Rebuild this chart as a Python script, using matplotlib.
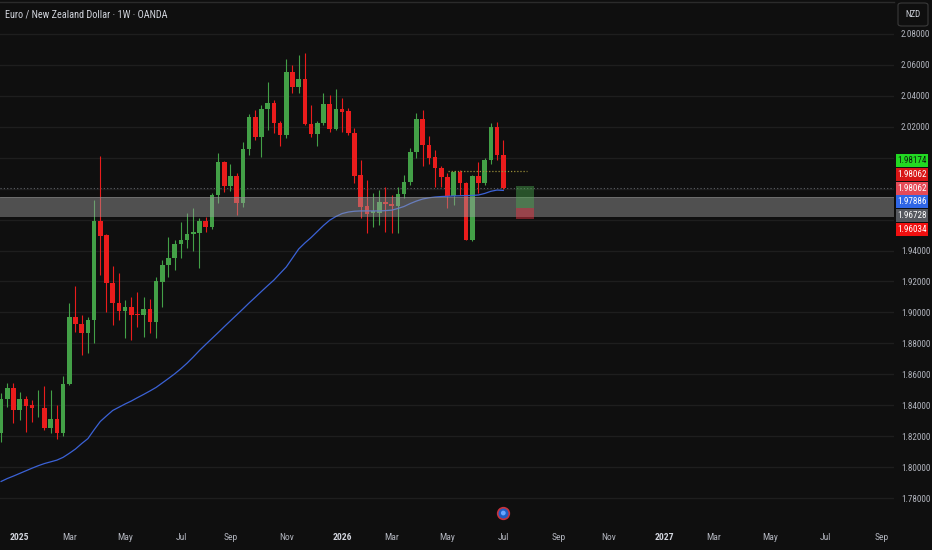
import numpy as np
import pandas as pd
import matplotlib
matplotlib.use("Agg")
import matplotlib.pyplot as plt
import matplotlib.transforms as mtransforms
from matplotlib.patches import Rectangle, FancyBboxPatch
from matplotlib import font_manager as fm

# ---------------- data ----------------
first_week = "2024-12-16"   # weekly bars (Monday)
opens = [1.8222, 1.8438, 1.8509, 1.8369, 1.8438, 1.8400, 1.8379, 1.8380, 1.8251, 1.8310,
         1.8218, 1.8536, 1.8972, 1.8925, 1.8865, 1.8951, 1.9591, 1.9502, 1.9188, 1.9059,
         1.9009, 1.9037, 1.8990, 1.8985, 1.9025, 1.8936, 1.9198, 1.9306, 1.9350, 1.9442,
         1.9465, 1.9505, 1.9511, 1.9591, 1.9554, 1.9759, 1.9974, 1.9817, 1.9882, 1.9705,
         2.0056, 2.0265, 2.0132, 2.0313, 2.0356, 2.0223, 2.0147, 2.0556, 2.0459, 2.0509,
         2.0218, 2.0153, 2.0223, 2.0345, 2.0184, 2.0313, 2.0304, 2.0162, 1.9888, 1.9690,
         1.9641, 1.9645, 1.9716, 1.9704, 1.9688, 1.9765, 1.9841, 2.0035, 2.0250, 2.0085,
         2.0003, 1.9932, 1.9873, 1.9753, 1.9910, 1.9835, 1.9468, 1.9882, 1.9839, 1.9985,
         2.0197, 2.0018]
highs = [1.8479, 1.8546, 1.8542, 1.8485, 1.8458, 1.8432, 1.8498, 1.8522, 1.8498, 1.8401,
         1.8592, 1.9059, 1.9173, 1.8983, 1.8972, 1.9727, 2.0011, 1.9510, 1.9300, 1.9257,
         1.9080, 1.9102, 1.9132, 1.9102, 1.9085, 1.9232, 1.9339, 1.9489, 1.9468, 1.9586,
         1.9645, 1.9673, 1.9610, 1.9619, 1.9770, 2.0032, 1.9981, 1.9959, 1.9903, 2.0104,
         2.0283, 2.0309, 2.0341, 2.0492, 2.0373, 2.0240, 2.0641, 2.0599, 2.0664, 2.0679,
         2.0341, 2.0237, 2.0417, 2.0406, 2.0442, 2.0384, 2.0320, 2.0190, 1.9985, 1.9856,
         1.9770, 1.9791, 1.9811, 1.9759, 1.9811, 1.9888, 2.0061, 2.0289, 2.0309, 2.0140,
         2.0050, 1.9947, 1.9903, 1.9916, 1.9921, 1.9840, 1.9888, 1.9970, 1.9998, 2.0226,
         2.0233, 2.0115]
lows = [1.8164, 1.8390, 1.8283, 1.8304, 1.8229, 1.8293, 1.8326, 1.8240, 1.8218, 1.8183,
        1.8199, 1.8530, 1.8875, 1.8725, 1.8736, 1.8804, 1.9242, 1.9005, 1.8919, 1.8951,
        1.8833, 1.8822, 1.8906, 1.8843, 1.8865, 1.8833, 1.9037, 1.9229, 1.9274, 1.9350,
        1.9414, 1.9399, 1.9285, 1.9522, 1.9537, 1.9705, 1.9780, 1.9787, 1.9630, 1.9683,
        2.0018, 2.0115, 2.0007, 2.0179, 2.0158, 2.0076, 2.0126, 2.0417, 2.0417, 2.0212,
        2.0136, 2.0076, 2.0212, 2.0168, 2.0179, 2.0168, 2.0147, 1.9835, 1.9608, 1.9511,
        1.9554, 1.9565, 1.9520, 1.9515, 1.9515, 1.9738, 1.9824, 1.9996, 1.9947, 1.9959,
        1.9813, 1.9809, 1.9673, 1.9694, 1.9759, 1.9465, 1.9462, 1.9770, 1.9824, 1.9959,
        1.9985, 1.9796]
closes = [1.8438, 1.8509, 1.8369, 1.8438, 1.8395, 1.8379, 1.8382, 1.8251, 1.8310, 1.8218,
          1.8536, 1.8972, 1.8925, 1.8865, 1.8951, 1.9591, 1.9496, 1.9188, 1.9059, 1.9009,
          1.9037, 1.8983, 1.8985, 1.9025, 1.8936, 1.9200, 1.9306, 1.9350, 1.9442, 1.9468,
          1.9510, 1.9518, 1.9591, 1.9554, 1.9759, 1.9974, 1.9817, 1.9882, 1.9705, 2.0056,
          2.0265, 2.0132, 2.0313, 2.0356, 2.0223, 2.0147, 2.0556, 2.0459, 2.0509, 2.0218,
          2.0153, 2.0223, 2.0345, 2.0184, 2.0313, 2.0298, 2.0158, 1.9882, 1.9683, 1.9636,
          1.9656, 1.9716, 1.9698, 1.9688, 1.9765, 1.9845, 2.0039, 2.0250, 2.0085, 2.0000,
          1.9932, 1.9873, 1.9753, 1.9910, 1.9835, 1.9468, 1.9882, 1.9835, 1.9985, 2.0197,
          2.0018, 1.98062]
ma_values = [1.7907, 1.7926, 1.7942, 1.7959, 1.7976, 1.7993, 1.8009, 1.8023, 1.8034, 1.8045,
             1.8063, 1.8089, 1.8117, 1.8152, 1.8184, 1.8241, 1.8295, 1.8331, 1.8366, 1.8387,
             1.8408, 1.8427, 1.8449, 1.8470, 1.8492, 1.8515, 1.8544, 1.8573, 1.8603, 1.8636,
             1.8672, 1.8712, 1.8754, 1.8793, 1.8831, 1.8869, 1.8908, 1.8946, 1.8984, 1.9022,
             1.9061, 1.9098, 1.9136, 1.9173, 1.9209, 1.9252, 1.9294, 1.9352, 1.9410, 1.9449,
             1.9484, 1.9523, 1.9562, 1.9596, 1.9620, 1.9639, 1.9649, 1.9654, 1.9656, 1.9656,
             1.9656, 1.9656, 1.9658, 1.9661, 1.9672, 1.9685, 1.9704, 1.9720, 1.9733, 1.9741,
             1.9746, 1.9749, 1.9751, 1.9753, 1.9754, 1.9755, 1.9756, 1.9759, 1.9769, 1.9783,
             1.9791, 1.97886]

zone_low, zone_high = 1.9619, 1.9748        # grey support zone
last_price = 1.98062
ma_last = 1.97886
take_profit, entry_price, stop_loss = 1.98174, 1.96728, 1.96034
pos_start, pos_end = 83.0, 86.0               # long-position tool (bar index)
olive_level, olive_start, olive_end = 1.9916, 72.1, 84.8

price_ticks = [1.78, 1.80, 1.82, 1.84, 1.86, 1.88, 1.90, 1.92, 1.94, 1.96, 1.98,
               2.00, 2.02, 2.04, 2.06, 2.08]
hidden_ticks = [1.96, 1.98, 2.00]
tick_months = [(2025, 1), (2025, 3), (2025, 5), (2025, 7), (2025, 9), (2025, 11),
               (2026, 1), (2026, 3), (2026, 5), (2026, 7), (2026, 9), (2026, 11),
               (2027, 1), (2027, 3), (2027, 5), (2027, 7), (2027, 9)]
month_abbr = ["Jan", "Feb", "Mar", "Apr", "May", "Jun", "Jul", "Aug", "Sep", "Oct", "Nov", "Dec"]
title_text = "Euro / New Zealand Dollar \u00b7 1W \u00b7 OANDA"
currency = "NZD"

# ---------------- style ----------------
avail = {f.name for f in fm.fontManager.ttflist}
narrow = [f for f in ["Liberation Sans Narrow", "Roboto Condensed", "Open Sans Condensed",
                      "Liberation Sans", "DejaVu Sans"] if f in avail]
plt.rcParams["font.family"] = narrow + ["DejaVu Sans"]

BG = "#0f0f0f"
GRID = "#1e1e1e"
TXT = "#b2b5be"
UP = "#43a047"
DOWN = "#ea1c1c"

W, H = 932, 550
fig = plt.figure(figsize=(W / 100, H / 100), dpi=100, facecolor=BG)
ax = fig.add_axes([0, 28 / H, 894 / W, 520 / H], facecolor=BG)

n = len(opens)
idx = np.arange(n)
o = np.array(opens); c = np.array(closes); hi = np.array(highs); lo = np.array(lows)
up = c >= o
colors = np.where(up, UP, DOWN)

# grid
for p in price_ticks:
    ax.axhline(p, color=GRID, lw=1.0, zorder=0)

# wicks and bodies
ax.vlines(idx, lo, hi, colors=colors, lw=0.8, zorder=2)
body_bottom = np.minimum(o, c)
body_h = np.maximum(np.abs(c - o), 0.0006)
ax.bar(idx, body_h, bottom=body_bottom, width=0.76, color=colors, linewidth=0, zorder=3)

# moving average
ax.plot(idx, ma_values, color="#3b62d6", lw=0.9, zorder=4)

# support zone
ax.axhspan(zone_low, zone_high, color="#a0a0a0", alpha=0.45, lw=0, zorder=5)
ax.axhline(zone_high, color="#8a8a8a", lw=0.6, alpha=0.6, zorder=5)

# long position tool
ax.add_patch(Rectangle((pos_start, entry_price), pos_end - pos_start, take_profit - entry_price,
                       facecolor="#4caf50", alpha=0.42, lw=0, zorder=6))
ax.add_patch(Rectangle((pos_start, stop_loss), pos_end - pos_start, entry_price - stop_loss,
                       facecolor="#f23645", alpha=0.45, lw=0, zorder=6))

# price line & olive dotted level
ax.axhline(last_price, color="#5f6268", lw=0.8, ls=(0, (1, 2)), zorder=1)
ax.hlines(olive_level, olive_start, olive_end, colors="#9c8f3a", lw=0.9, linestyles=(0, (1, 1.5)), zorder=6)

# axes limits
ax.set_xlim(-0.177, 144.016)
ax.set_ylim(1.764496, 2.100676)

for s in ["left", "right", "bottom"]:
    ax.spines[s].set_visible(False)
ax.spines["top"].set_color("#2b2b2b")
ax.spines["top"].set_linewidth(1.0)

# y ticks on the right
ax.yaxis.tick_right()
ax.set_yticks(price_ticks)
ax.set_yticklabels(["" if any(abs(p - h) < 1e-9 for h in hidden_ticks) else f"{p:.5f}"
                    for p in price_ticks])
ax.tick_params(axis="y", length=0, pad=5, labelsize=6.6, labelcolor=TXT)

# x ticks at the first weekly bar of each month
dates = pd.date_range(first_week, periods=160, freq="W-MON")
xt, xl = [], []
for (yy, mm) in tick_months:
    pos = int(np.argmax((dates.year == yy) & (dates.month == mm)))
    xt.append(pos)
    xl.append(str(yy) if mm == 1 else month_abbr[mm - 1])
ax.set_xticks(xt)
ax.set_xticklabels(xl)
ax.tick_params(axis="x", length=0, pad=8, labelsize=6.8, labelcolor=TXT)
for t in ax.get_xticklabels():
    if t.get_text().isdigit():
        t.set_fontweight("bold")
        t.set_color("#d1d4dc")

# event marker on the last bar
trans = mtransforms.blended_transform_factory(ax.transData, ax.transAxes)
ax.scatter([n - 1], [0.0173], s=70, transform=trans, facecolor="#1f5fc4",
           edgecolor="#c8323c", linewidth=1.2, clip_on=False, zorder=10)
ax.scatter([n - 1], [0.0173], s=12, transform=trans, facecolor="#6aa6ff",
           edgecolor="none", clip_on=False, zorder=11)

# title and currency box
fig.text(5 / W, 1 - 15 / H, title_text, color="#d1d4dc", fontsize=7.4, va="center", ha="left")
fig.add_artist(FancyBboxPatch((898 / W, 1 - 26 / H), 30 / W, 23 / H,
                              boxstyle="round,pad=0,rounding_size=0.004",
                              transform=fig.transFigure, facecolor=BG,
                              edgecolor="#3a3a3a", lw=0.8))
fig.text(913 / W, 1 - 14.5 / H, currency, color="#d1d4dc", fontsize=6.4, ha="center", va="center")

# stacked price labels on the right scale
tags = [(take_profit, "#22d822", "#0b200b"),
        (last_price, "#d81515", "white"),
        (last_price, "#e64a57", "white"),
        (ma_last, "#2f66e6", "white"),
        (entry_price, "#55585e", "white"),
        (stop_loss, "#f01010", "white")]
disp_y = [ax.transData.transform((0, p))[1] for p, _, _ in tags]
center = np.mean(disp_y) + 1.5
sp = 13.7
for k, (p, bg, fg) in enumerate(tags):
    yc = center + (len(tags) - 1) / 2 * sp - k * sp
    fig.add_artist(Rectangle((896 / W, (yc - 6.4) / H), 32 / W, 12.8 / H,
                             transform=fig.transFigure, facecolor=bg, edgecolor="none"))
    fig.text(912 / W, yc / H, f"{p:.5f}", color=fg, fontsize=6.6, ha="center", va="center")

fig.savefig("out.png", dpi=100, facecolor=BG)
